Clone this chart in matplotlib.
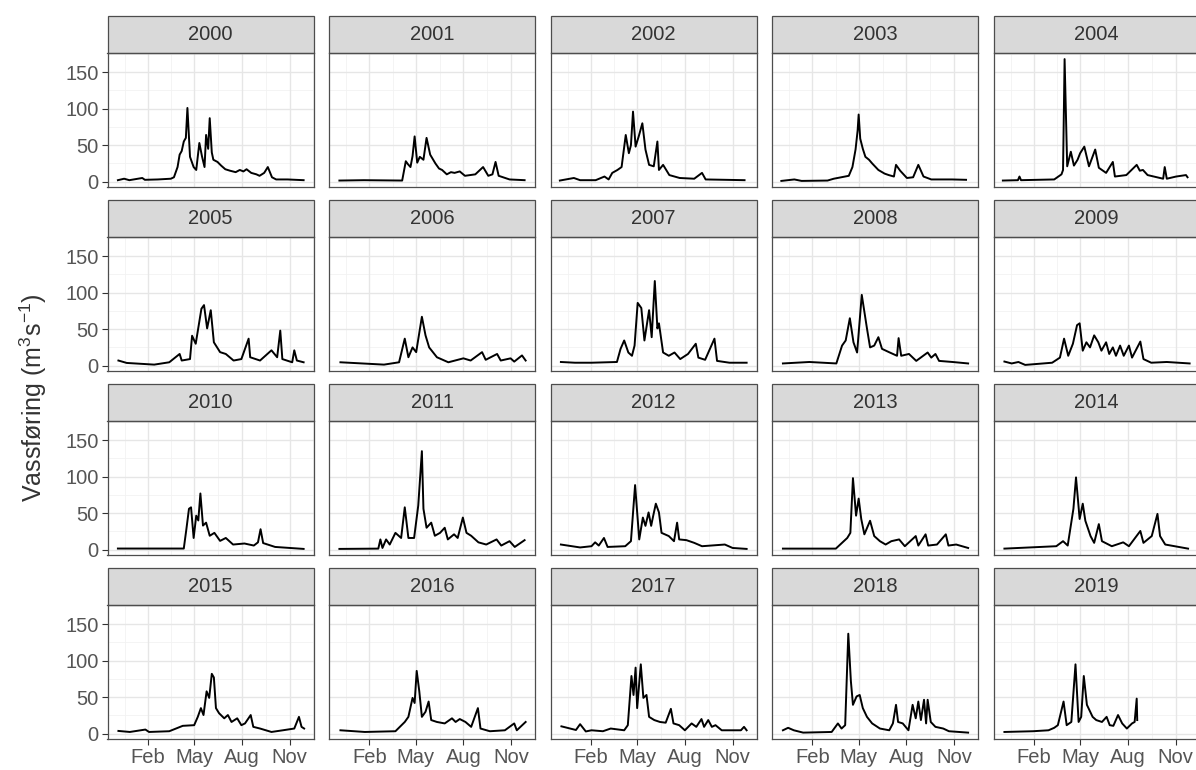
import matplotlib
matplotlib.use("Agg")
import matplotlib.pyplot as plt
from matplotlib.patches import Rectangle

plt.rcParams["font.family"] = ["Liberation Sans", "DejaVu Sans"]
plt.rcParams["mathtext.default"] = "regular"

# (day relative to 1 Jan, discharge m3/s)
flow_2000 = [(-27, 2), (-15, 4), (-5, 2), (20, 5), (25, 2.5), (50, 3), (75, 4), (81, 6), (88, 20), (92, 37),
             (96, 42), (100, 55), (104, 60), (107, 101), (112, 34), (119, 20), (124, 16), (130, 53), (135, 35),
             (140, 20), (143, 64), (147, 45), (150, 87), (154, 40), (157, 30), (165, 27), (172, 22), (180, 17),
             (189, 15), (200, 13), (208, 16), (215, 14), (221, 17), (230, 12), (240, 10), (246, 8), (255, 12),
             (262, 20), (270, 6), (278, 3), (300, 3), (331, 2)]
flow_2001 = [(-27, 1.5), (20, 2), (94, 1.5), (101, 28), (105, 24), (110, 20), (114, 35), (118, 62), (123, 26),
             (128, 34), (135, 30), (141, 60), (148, 37), (158, 25), (165, 18), (171, 16), (180, 10), (188, 13),
             (195, 12), (205, 14), (215, 8), (235, 10), (250, 20), (260, 8), (268, 10), (274, 27), (280, 8),
             (301, 3), (330, 2)]
flow_2002 = [(-29, 1.5), (-2, 5), (10, 2), (40, 2), (57, 7), (65, 3), (72, 12), (82, 16), (90, 20), (98, 64),
             (104, 39), (108, 50), (112, 96), (117, 48), (123, 62), (130, 80), (136, 44), (143, 23), (152, 21),
             (159, 55), (162, 16), (170, 23), (182, 9), (202, 5), (230, 4), (245, 12), (252, 3), (290, 2.5),
             (327, 2)]
flow_2003 = [(-29, 1), (-4, 3), (10, 1), (60, 1.5), (72, 4), (101, 8), (108, 20), (114, 44), (118, 70), (120, 92),
             (123, 59), (128, 45), (133, 34), (140, 30), (146, 25), (158, 16), (170, 11), (178, 9), (188, 7),
             (192, 23), (200, 15), (213, 5), (225, 6), (235, 23), (245, 7), (260, 3), (300, 3), (327, 2.5)]
flow_2004 = [(-29, 1.5), (0, 2), (3, 7), (6, 2), (70, 3), (84, 10), (87, 16), (90, 168), (95, 21), (102, 41),
             (108, 22), (115, 30), (120, 39), (128, 48), (137, 21), (149, 44), (156, 19), (170, 12), (183, 27),
             (187, 7), (209, 9), (229, 23), (235, 15), (241, 16), (250, 9), (280, 4), (283, 20), (287, 4),
             (305, 7), (324, 9), (327, 6)]
flow_2005 = [(-26, 7), (-10, 3.7), (43, 1.4), (72, 4.6), (92, 16), (96, 7), (112, 9), (116, 41), (123, 30),
             (134, 78), (139, 83), (145, 51), (152, 76), (158, 32), (170, 18.5), (181, 16), (196, 7), (211, 9),
             (225, 37), (228, 11.5), (247, 7), (269, 21), (280, 11.5), (286, 48), (290, 9), (309, 4.6),
             (313, 21), (318, 7), (331, 4.6)]
flow_2006 = [(-25, 4.6), (59, 1.4), (88, 4.6), (99, 37), (106, 11.5), (114, 25), (121, 18.5), (132, 67),
             (139, 41.5), (146, 25), (161, 11.5), (183, 4.6), (212, 10), (226, 7), (248, 18.5), (255, 8),
             (277, 16), (284, 7), (303, 10), (310, 5.5), (325, 14), (332, 7)]
flow_2007 = [(-27, 5), (0, 4), (32, 4), (81, 5), (88, 23), (95, 34.5), (103, 18), (110, 13.5), (115, 27.5),
             (121, 86), (128, 79), (134, 34.5), (143, 76), (148, 39), (154, 116), (159, 51), (162, 58),
             (170, 18), (181, 13.5), (192, 18), (203, 9), (218, 16), (233, 30), (238, 11), (251, 8), (269, 37),
             (274, 6.5), (298, 4), (331, 4)]
flow_2008 = [(-26, 3), (25, 5), (77, 3), (88, 27.5), (95, 34.5), (103, 65), (110, 32), (117, 18), (126, 97),
             (136, 51), (142, 25), (150, 27.5), (158, 39), (165, 23), (180, 18), (194, 13.5), (197, 37.7),
             (202, 13.5), (217, 16), (231, 6.5), (253, 18), (260, 11), (268, 16), (275, 6.5), (301, 5),
             (331, 3)]
flow_2009 = [(-26, 5.6), (-12, 3), (1, 5), (14, 1), (66, 4), (81, 11), (89, 37), (97, 13.5), (106, 30),
             (114, 55.5), (119, 58), (125, 20.5), (132, 32), (139, 25), (147, 41.5), (155, 32), (161, 20.5),
             (170, 32), (176, 16), (183, 25), (189, 13.5), (197, 27.5), (204, 13.5), (214, 27.5), (220, 11),
             (236, 33), (242, 9), (257, 4), (287, 5), (331, 3)]
flow_2010 = [(-27, 1.5), (100, 1.5), (105, 28), (110, 56), (114, 58), (119, 16), (124, 46.6), (128, 40),
             (132, 77), (137, 33), (143, 37), (150, 19), (159, 23), (170, 12), (181, 16), (195, 7), (217, 8.4),
             (235, 5.6), (243, 10), (248, 28), (253, 9), (276, 3.7), (331, 1)]
flow_2011 = [(-27, 1), (48, 1.4), (52, 14), (56, 2.3), (63, 14), (70, 7), (81, 23), (92, 16), (99, 58),
             (106, 16), (117, 16), (125, 60.5), (132, 135), (135, 56), (141, 30), (150, 37), (157, 19),
             (167, 23), (176, 30), (182, 14), (194, 21), (201, 16), (211, 44), (218, 23), (227, 19), (241, 10),
             (256, 7), (276, 14), (285, 5.6), (301, 11.6), (311, 3.7), (330, 13)]
flow_2012 = [(-27, 7), (10, 3), (32, 4.7), (39, 10), (46, 5.6), (56, 16), (63, 3.7), (97, 4.7), (108, 11.6),
             (116, 88.5), (124, 14), (131, 44), (136, 32.6), (142, 51), (147, 32.6), (151, 46.6), (156, 63),
             (162, 51), (167, 23), (181, 18.6), (191, 11.6), (197, 37), (201, 14), (215, 13), (230, 9.3),
             (245, 4.7), (289, 7), (304, 2.3), (331, 1)]
flow_2013 = [(-26, 1.4), (76, 1.4), (98, 16), (104, 23), (109, 98), (115, 46.6), (120, 70), (125, 42),
             (131, 21), (142, 39.6), (150, 18.6), (161, 11.6), (172, 7), (183, 11.6), (198, 14), (209, 4.7),
             (230, 18.6), (235, 5.6), (249, 21), (254, 5.6), (271, 7), (288, 21), (293, 5.6), (308, 7),
             (331, 2.3)]
flow_2014 = [(-26, 1.4), (74, 4.7), (87, 11.6), (96, 5.6), (107, 56), (112, 99), (119, 42), (125, 63),
             (130, 39.6), (140, 18.6), (147, 9.3), (156, 35), (162, 11.6), (181, 4.7), (203, 10), (214, 4.7),
             (236, 25.6), (242, 9.3), (258, 18.6), (269, 49), (274, 18.6), (284, 7), (328, 1.4)]
flow_2015 = [(-26, 3.7), (-4, 2.3), (26, 5.6), (33, 2.3), (72, 3.3), (98, 10.7), (120, 11.6), (127, 23),
             (133, 35), (138, 25.5), (144, 58), (149, 49), (154, 82), (158, 77), (162, 35), (168, 28),
             (178, 21), (185, 25.5), (192, 16), (203, 21), (211, 11.6), (218, 14), (229, 25.5), (234, 9.3),
             (247, 7), (269, 2.3), (291, 4.6), (313, 7), (322, 23), (327, 9.3), (332, 7)]
flow_2016 = [(-25, 4.6), (22, 2.3), (81, 3.3), (99, 16), (106, 23), (114, 49), (118, 42), (122, 86),
             (127, 58), (132, 23), (139, 30), (145, 44), (150, 18.6), (161, 16), (176, 14), (190, 21),
             (197, 16), (205, 20), (216, 16), (227, 9.3), (240, 35), (245, 7), (263, 3.3), (292, 4.6),
             (310, 14), (315, 4.6), (332, 16)]
flow_2017 = [(-26, 10), (2, 5), (10, 13), (21, 3), (32, 4.6), (54, 3.3), (69, 7), (95, 4.6), (102, 11.6),
             (109, 79), (113, 53), (117, 90.5), (120, 35), (127, 95), (132, 49), (138, 53), (143, 23),
             (153, 18.6), (164, 16), (175, 15), (185, 34), (190, 14), (201, 11.6), (212, 4.6), (225, 14),
             (234, 9.3), (244, 20), (249, 9.3), (257, 18.6), (264, 9.3), (271, 11.6), (283, 4.6), (320, 4.6),
             (326, 9.3), (331, 4.6)]
flow_2018 = [(-26, 4.6), (-16, 8), (-5, 4.6), (13, 1.4), (68, 2.3), (80, 14), (87, 7), (94, 11.6), (100, 137),
             (105, 72), (109, 39.5), (116, 51), (122, 53), (128, 35), (136, 23), (146, 14), (161, 7),
             (179, 4.6), (186, 14), (192, 39.5), (196, 16), (205, 14), (216, 4.6), (224, 39.5), (230, 21),
             (235, 44), (240, 18.6), (246, 46.4), (250, 14), (253, 46.4), (259, 16), (268, 9.3), (283, 7),
             (294, 3.3), (331, 1.4)]
flow_2019 = [(-26, 2.3), (29, 3.3), (59, 4.6), (70, 8), (77, 11.6), (88, 44), (94, 11.6), (103, 16),
             (111, 95), (117, 16), (122, 23), (127, 79), (133, 39.5), (144, 23), (151, 18.6), (162, 16),
             (171, 23), (177, 11.6), (184, 10.7), (193, 25.5), (201, 14), (210, 7), (220, 14), (225, 16),
             (229, 48), (230, 18.6)]

years = list(range(2000, 2020))
series = [flow_2000, flow_2001, flow_2002, flow_2003, flow_2004,
          flow_2005, flow_2006, flow_2007, flow_2008, flow_2009,
          flow_2010, flow_2011, flow_2012, flow_2013, flow_2014,
          flow_2015, flow_2016, flow_2017, flow_2018, flow_2019]

month_days = [31, 120, 212, 304]
month_labels = ["Feb", "May", "Aug", "Nov"]
y_ticks = [0, 50, 100, 150]

# shared scales with ggplot-like 5% expansion
all_days = [p[0] for s in series for p in s]
all_vals = [p[1] for s in series for p in s]
dx = 0.05 * (max(all_days) - min(all_days))
dy = 0.05 * (max(all_vals) - min(all_vals))
xlim = (min(all_days) - dx, max(all_days) + dx)
ylim = (min(all_vals) - dy, max(all_vals) + dy)
minor_x = [m for m in [31 - 44.5, 75.5, 166, 258, 350] if xlim[0] < m < xlim[1]]
minor_y = [25, 75, 125, 175]

W, H = 1196, 770
fig = plt.figure(figsize=(W / 100, H / 100), dpi=100)

edge = "#4d4d4d"
for i, (yr, pts) in enumerate(zip(years, series)):
    r, c = divmod(i, 5)
    left = 107.5 + 221.5 * c
    top = 53 + 184 * r
    ax = fig.add_axes([left / W, 1 - (top + 134) / H, 206 / W, 134 / H])
    ax.set_axisbelow(True)
    for m in minor_x:
        ax.axvline(m, color="#f2f2f2", lw=0.6, zorder=0)
    for m in minor_y:
        ax.axhline(m, color="#f2f2f2", lw=0.6, zorder=0)
    for m in month_days:
        ax.axvline(m, color="#e6e6e6", lw=1.0, zorder=0)
    for m in y_ticks:
        ax.axhline(m, color="#e6e6e6", lw=1.0, zorder=0)

    ax.plot([p[0] for p in pts], [p[1] for p in pts], color="black", lw=1.4, zorder=3)
    ax.set_xlim(*xlim)
    ax.set_ylim(*ylim)
    ax.set_xticks(month_days)
    ax.set_xticklabels(month_labels)
    ax.set_yticks(y_ticks)
    for sp in ax.spines.values():
        sp.set_color(edge)
        sp.set_linewidth(0.9)
    ax.tick_params(length=4, width=0.8, color="#333333", labelsize=14.5,
                   labelcolor="#555555", pad=2.5)
    if c != 0:
        ax.tick_params(axis="y", left=False, labelleft=False)
    if r != 3:
        ax.tick_params(axis="x", bottom=False, labelbottom=False)

    sh = 37 / 134
    ax.add_patch(Rectangle((0, 1), 1, sh, transform=ax.transAxes, clip_on=False,
                           facecolor="#d9d9d9", edgecolor=edge, lw=0.9))
    ax.text(0.5, 1 + sh / 2, str(yr), transform=ax.transAxes, ha="center", va="center",
            fontsize=14.5, color="#333333")

fig.text(33 / W, 1 - 398 / H, r"Vassføring (m$^3$s$^{-1}$)", rotation=90,
         ha="center", va="center", fontsize=18, color="#333333")

fig.savefig("out.png", dpi=100)
